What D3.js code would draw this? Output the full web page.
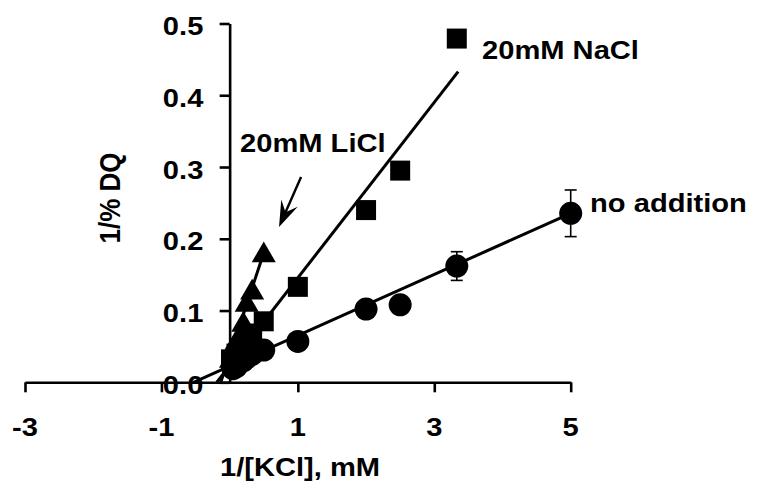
<!DOCTYPE html>
<html>
<head>
<meta charset="utf-8">
<script src="https://cdn.jsdelivr.net/npm/d3@7"></script>
<style>
  body { margin: 0; background: #fff; }
  text { font-family: "Liberation Sans", Arial, sans-serif; font-weight: bold; fill: #000; }
</style>
</head>
<body>
<div id="chart"></div>
<script>
// Data (x = 1/[KCl], y = 1/% DQ)
const noAddX = [0.05, 0.1, 0.2, 0.25, 0.33, 0.5, 1, 2, 2.5, 3.33, 5];
const noAddY = [0.019, 0.022, 0.03, 0.034, 0.039, 0.045, 0.057, 0.102, 0.108, 0.162, 0.2355];
const noAddErr = [0, 0, 0, 0, 0, 0, 0, 0, 0.012, 0.02, 0.0325];

const naclX = [0.02, 0.1, 0.2, 0.25, 0.33, 0.5, 1, 2, 2.5, 3.33];
const naclY = [0.032, 0.04, 0.05, 0.058, 0.068, 0.085, 0.133, 0.24, 0.295, 0.479];

const liclX = [0.02, 0.05, 0.1, 0.2, 0.25, 0.33, 0.5];
const liclY = [0.03, 0.04, 0.055, 0.08, 0.108, 0.125, 0.177];

// fitted lines, as [x, y] end points
const noAddFit = [[-0.53, 0], [5, 0.2355]];
const naclFit = [[-0.19, 0], [3.35, 0.433]];
const liclFit = [[-0.13, 0], [0.53, 0.189]];

const xTicks = [-3, -1, 1, 3, 5];
const yTicks = [0, 0.1, 0.2, 0.3, 0.4, 0.5];

const width = 762;
const height = 501;
const fontSize = 26;
const stretch = 1.12; // text in the picture is a bit wide

const x = d3.scaleLinear().domain([-3, 5]).range([25, 570.7]);
const y = d3.scaleLinear().domain([0, 0.5]).range([382.3, 23.5]);

const svg = d3.select("#chart").append("svg")
    .attr("width", width)
    .attr("height", height)
    .attr("viewBox", [0, 0, width, height]);

svg.append("rect").attr("width", width).attr("height", height).attr("fill", "#fff");

// helper for wide text
function label(txt, px, py, anchor, rotate) {
    const t = svg.append("text")
        .attr("text-anchor", anchor)
        .attr("font-size", fontSize)
        .text(txt);
    if (rotate) {
        t.attr("transform", `translate(${px},${py}) rotate(-90) scale(1,${stretch})`);
    } else {
        t.attr("transform", `translate(${px},${py}) scale(${stretch},1)`);
    }
    return t;
}

// Axes
svg.append("g")
    .attr("transform", `translate(0,${y(0)})`)
    .call(d3.axisBottom(x).tickValues(xTicks).tickSize(10).tickSizeOuter(0).tickFormat(""))
    .call(g => g.selectAll("path, line").attr("stroke", "#000").attr("stroke-width", 2.6));

svg.append("g")
    .attr("transform", `translate(${x(0)},0)`)
    .call(d3.axisLeft(y).tickValues(yTicks).tickSize(10).tickSizeOuter(0).tickFormat(""))
    .call(g => g.selectAll("path, line").attr("stroke", "#000").attr("stroke-width", 2.6));

xTicks.forEach(v => label(String(v), x(v), 435.5, "middle"));
yTicks.forEach(v => label(v.toFixed(1), x(0) - 26.3, y(v) + 11.5, "end"));

label("1/[KCl], mM", 300, 476, "middle");
label("1/% DQ", 119.5, 198, "middle", true);

// Fit lines
const line = d3.line().x(d => x(d[0])).y(d => y(d[1]));
[noAddFit, naclFit, liclFit].forEach(f => {
    svg.append("path")
        .attr("d", line(f))
        .attr("fill", "none")
        .attr("stroke", "#000")
        .attr("stroke-width", 3);
});

// Error bars (no addition)
const errG = svg.append("g").attr("stroke", "#000").attr("stroke-width", 1.6);
noAddX.forEach((v, i) => {
    const e = noAddErr[i];
    if (!e) return;
    errG.append("line")
        .attr("x1", x(v)).attr("x2", x(v))
        .attr("y1", y(noAddY[i] - e)).attr("y2", y(noAddY[i] + e));
    [noAddY[i] - e, noAddY[i] + e].forEach(c => {
        errG.append("line")
            .attr("x1", x(v) - 6).attr("x2", x(v) + 6)
            .attr("y1", y(c)).attr("y2", y(c));
    });
});

// Markers
function markers(xs, ys, type, size) {
    svg.append("g")
        .selectAll("path")
        .data(xs.map((v, i) => [v, ys[i]]))
        .join("path")
        .attr("transform", d => `translate(${x(d[0])},${y(d[1])})`)
        .attr("d", d3.symbol().type(type).size(size))
        .attr("fill", "#000");
}
markers(noAddX, noAddY, d3.symbolCircle, Math.PI * 11.5 * 11.5);
markers(naclX, naclY, d3.symbolSquare, 400);
markers(liclX, liclY, d3.symbolTriangle, 250);

// Annotations
label("20mM NaCl", x(3.70), y(0.4505), "start");
label("20mM LiCl", x(0.152), y(0.3213), "start");
label("no addition", x(5.284), y(0.2377), "start");

// Arrow pointing at the LiCl line
const a0 = [x(1.047), y(0.286)];
const a1 = [x(0.724), y(0.2164)];
const dx = a1[0] - a0[0], dy = a1[1] - a0[1];
const len = Math.hypot(dx, dy);
const ux = dx / len, uy = dy / len;
const nx = -uy, ny = ux;
const headL = 26, headW = 9;
svg.append("line")
    .attr("x1", a0[0]).attr("y1", a0[1])
    .attr("x2", a1[0] - ux * headL * 0.6).attr("y2", a1[1] - uy * headL * 0.6)
    .attr("stroke", "#000").attr("stroke-width", 2.4);
svg.append("path")
    .attr("d", `M${a1[0]},${a1[1]}
        L${a1[0] - ux * headL + nx * headW},${a1[1] - uy * headL + ny * headW}
        L${a1[0] - ux * headL * 0.62},${a1[1] - uy * headL * 0.62}
        L${a1[0] - ux * headL - nx * headW},${a1[1] - uy * headL - ny * headW}Z`)
    .attr("fill", "#000");
</script>
</body>
</html>
